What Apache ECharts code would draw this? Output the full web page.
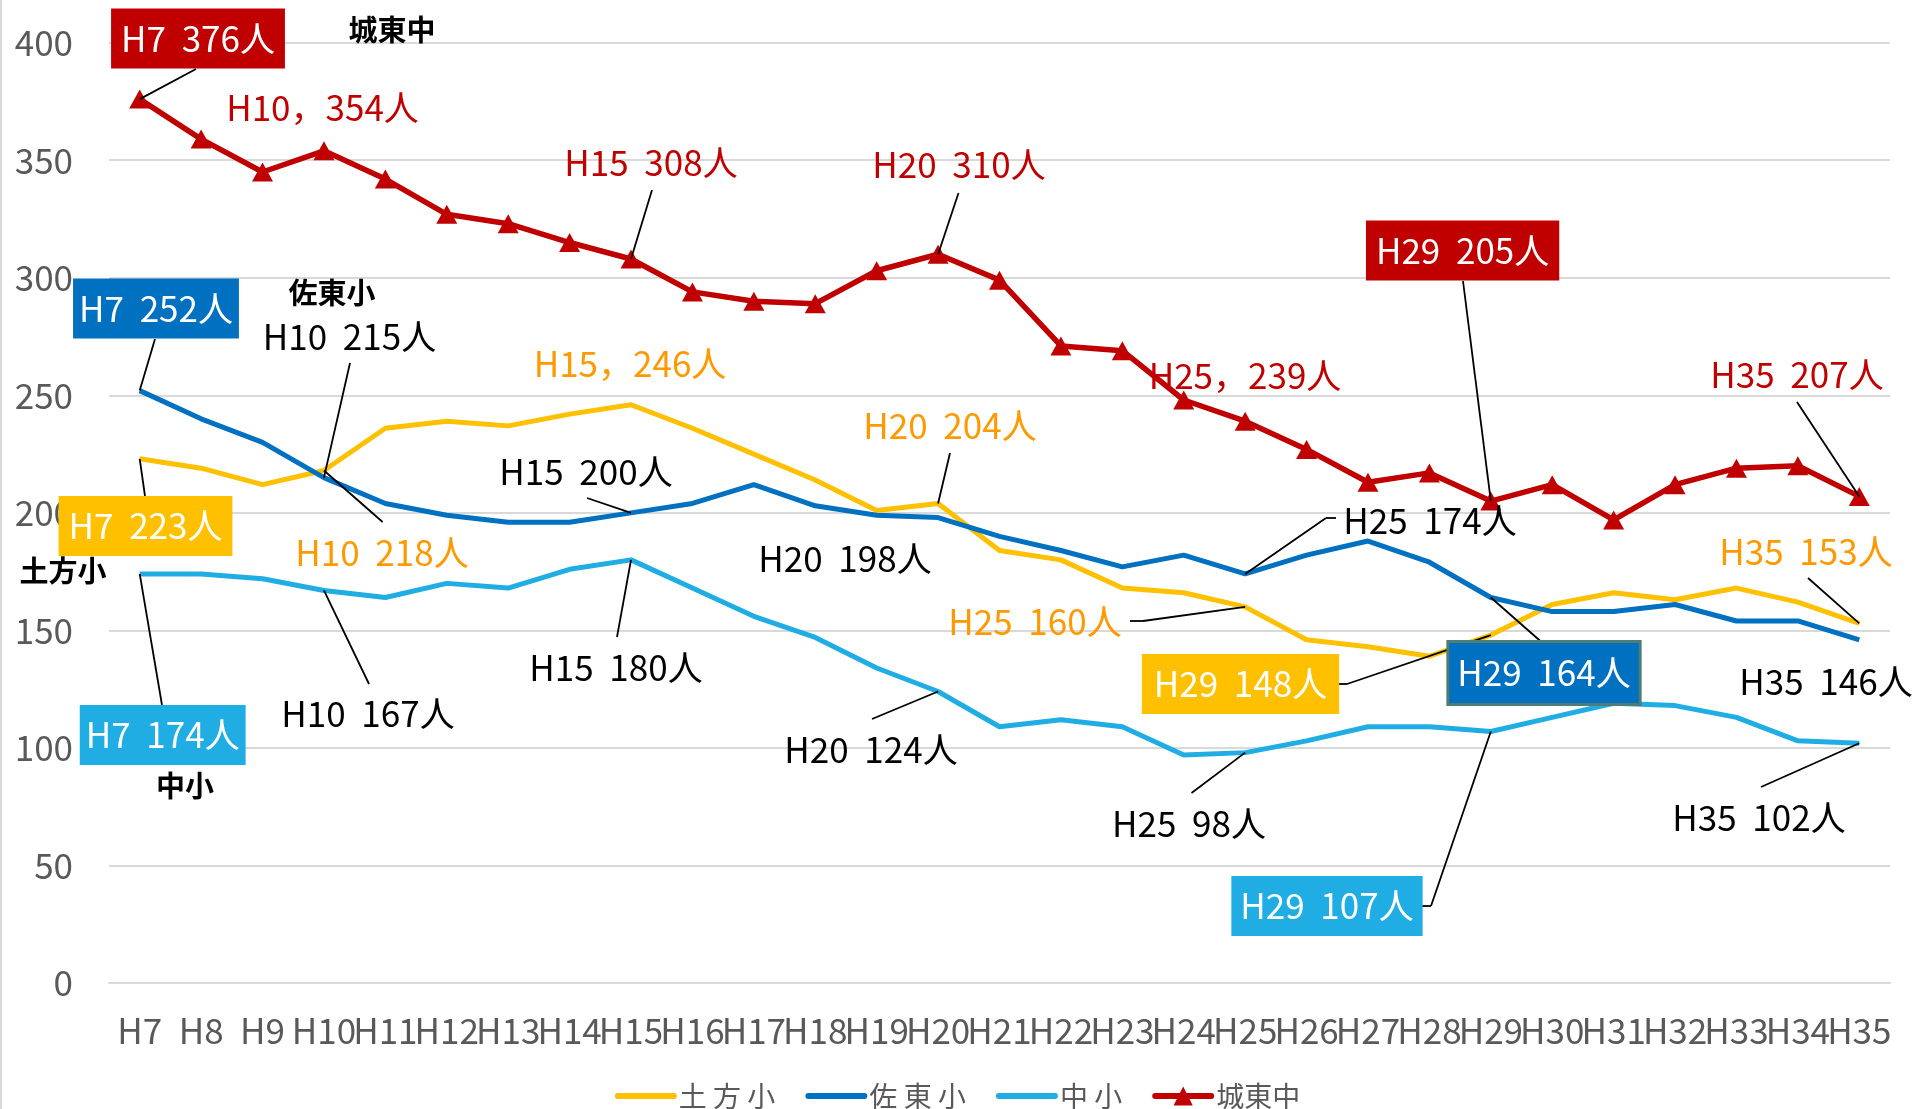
<!DOCTYPE html>
<html>
<head>
<meta charset="utf-8">
<script src="https://cdn.jsdelivr.net/npm/echarts@6/dist/echarts.min.js"></script>
<style>
html,body{margin:0;padding:0;background:#fff;}
#chart{width:1915px;height:1109px;}
</style>
</head>
<body>
<div id="chart"></div>
<script>
// ---------------- data ----------------
const categories = ['H7','H8','H9','H10','H11','H12','H13','H14','H15','H16','H17','H18','H19','H20','H21','H22','H23','H24','H25','H26','H27','H28','H29','H30','H31','H32','H33','H34','H35'];
const yTicks = [0, 50, 100, 150, 200, 250, 300, 350, 400];
const seriesNames = ['土 方 小', '佐 東 小', '中 小', '城東中'];
const hijikata = [223,219,212,218,236,239,237,242,246,236,225,214,201,204,184,180,168,166,160,146,143,139,148,161,166,163,168,162,153];
const satou    = [252,240,230,215,204,199,196,196,200,204,212,203,199,198,190,184,177,182,174,182,188,179,164,158,158,161,154,154,146];
const naka     = [174,174,172,167,164,170,168,176,180,168,156,147,134,124,109,112,109,97,98,103,109,109,107,113,119,118,113,103,102];
const joto     = [376,359,345,354,342,327,323,315,308,294,290,289,303,310,299,271,269,248,239,227,213,217,205,212,197,212,219,220,207];
const annotatedIdx = [0, 3, 8, 13, 18, 22, 28];
const seriesTitles = ['土方小', '佐東小', '中小', '城東中'];

// ---------------- layout / styles ----------------
const FONT = "'Noto Sans CJK JP', 'Noto Sans', sans-serif";
const RED = '#C00000', YEL = '#FFC000', BLUE = '#0070C0', LBLUE = '#1FADE3', ORANGE = '#FF9900', GREY = '#595959';

// annotation layout per series: label centre (pixel), style kind, separator, leader path (pixel points from label toward the data point)
const annLayout = [
  [ // 土方小
    {x:145.5, y:526, kind:'box', bg:YEL, padX:10, lead:[[145,496]]},
    {x:382, y:553, kind:'text', color:ORANGE, lead:[[382.6,522]]},
    {x:630, y:364, kind:'text', color:ORANGE, sep:'，', lead:[]},
    {x:950, y:426, kind:'text', color:ORANGE, lead:[[950,453]]},
    {x:1035, y:622, kind:'text', color:ORANGE, lead:[[1130,621],[1143,621]]},
    {x:1240.5, y:684, kind:'box', bg:YEL, padX:12, lead:[[1336,684],[1347,684]]},
    {x:1806, y:552, kind:'text', color:ORANGE, lead:[[1808,578]]}
  ],
  [ // 佐東小
    {x:156, y:308.5, kind:'box', bg:BLUE, padX:6, lead:[[155,339]]},
    {x:349.5, y:337, kind:'text', color:'#000', lead:[[350,363]]},
    {x:586, y:472, kind:'text', color:'#000', lead:[[587,498]]},
    {x:845, y:559, kind:'text', color:'#000', lead:[]},
    {x:1430, y:521, kind:'text', color:'#000', lead:[[1336,518],[1326,518]]},
    {x:1544, y:673, kind:'box', bg:BLUE, padX:8, border:'#4E7D78', lead:[[1542.6,643]]},
    {x:1826, y:682, kind:'text', color:'#000', lead:[]}
  ],
  [ // 中小
    {x:162.7, y:735, kind:'box', bg:LBLUE, padX:6, lead:[[162,705]]},
    {x:368, y:714, kind:'text', color:'#000', lead:[[369,684]]},
    {x:616, y:668, kind:'text', color:'#000', lead:[[617,637]]},
    {x:871, y:750, kind:'text', color:'#000', lead:[[872,719]]},
    {x:1189, y:824, kind:'text', color:'#000', lead:[[1191.5,793]]},
    {x:1327, y:906, kind:'box', bg:LBLUE, padX:9, lead:[[1419,906],[1431,906]]},
    {x:1759, y:818, kind:'text', color:'#000', lead:[[1761,787]]}
  ],
  [ // 城東中
    {x:198, y:38.5, kind:'box', bg:RED, padX:10, lead:[[196,69]]},
    {x:322.5, y:108, kind:'text', color:RED, sep:'，', lead:[]},
    {x:651, y:163, kind:'text', color:RED, lead:[[652,190]]},
    {x:959, y:165, kind:'text', color:RED, lead:[[958.5,193]]},
    {x:1245, y:376, kind:'text', color:RED, sep:'，', lead:[]},
    {x:1462.6, y:250.5, kind:'box', bg:RED, padX:10, lead:[[1463,281]]},
    {x:1797, y:375, kind:'text', color:RED, lead:[[1797,402]]}
  ]
];
const titleLayout = [[63,571],[332,293],[185,786],[392,30]];

// ---------------- build ----------------
const allValues = [hijikata, satou, naka, joto];
const lineColors = [YEL, BLUE, LBLUE, RED];

function buildMarkers(si) {
  const values = allValues[si];
  const points = [];
  const lines = [];
  annotatedIdx.forEach((di, k) => {
    const a = annLayout[si][k];
    const sep = a.sep || '  ';
    const text = categories[di] + sep + values[di] + '人';
    const label = {
      show: true, position: 'inside', formatter: text,
      fontFamily: FONT, fontSize: 35, lineHeight: 36,
      align: 'center', verticalAlign: 'middle'
    };
    if (a.kind === 'box') {
      label.color = '#fff';
      label.backgroundColor = a.bg;
      label.padding = [12, a.padX, 12, a.padX];
      if (a.border) { label.borderColor = a.border; label.borderWidth = 3; }
    } else {
      label.color = a.color;
    }
    points.push({ x: a.x, y: a.y, label: label });
    const pts = a.lead;
    for (let j = 0; j < pts.length; j++) {
      const p0 = { x: pts[j][0], y: pts[j][1] };
      const p1 = (j + 1 < pts.length) ? { x: pts[j+1][0], y: pts[j+1][1] } : { coord: [di, values[di]] };
      lines.push([p0, p1]);
    }
  });
  return {
    markPoint: {
      silent: true, symbol: 'rect', symbolSize: 1, z: 7,
      itemStyle: { color: 'rgba(0,0,0,0)' },
      data: points
    },
    markLine: {
      silent: true, symbol: ['none', 'none'], z: 6, animation: false,
      label: { show: false },
      lineStyle: { color: '#000', width: 1.8, type: 'solid' },
      emphasis: { disabled: true },
      data: lines
    }
  };
}

const series = allValues.map((vals, si) => {
  const isRed = si === 3;
  const s = {
    name: seriesNames[si],
    type: 'line',
    data: vals,
    color: lineColors[si],
    lineStyle: { width: isRed ? 5.5 : 5, color: lineColors[si] },
    symbol: isRed ? 'triangle' : 'none',
    symbolSize: isRed ? [21, 19] : 0,
    showSymbol: isRed,
    itemStyle: { color: lineColors[si] },
    z: 2 + si,
    emphasis: { disabled: true },
    animation: false
  };
  return Object.assign(s, buildMarkers(si));
});

const graphics = [
  { type: 'rect', left: 0, top: 0, shape: { x: 0, y: 0, width: 2, height: 1109 }, style: { fill: '#D9D9D9' }, z: 0 }
];
titleLayout.forEach((p, i) => {
  graphics.push({
    type: 'text', x: p[0], y: p[1], z: 100,
    style: { text: seriesTitles[i], fill: '#000', font: 'bold 29px ' + FONT, align: 'center', verticalAlign: 'middle' }
  });
});

const legendData = seriesNames.map((n, i) => (i === 3 ? { name: n } : { name: n, itemStyle: { opacity: 0 } }));

const chart = echarts.init(document.getElementById('chart'), null, { renderer: 'canvas' });
chart.setOption({
  animation: false,
  backgroundColor: '#fff',
  textStyle: { fontFamily: FONT },
  grid: { left: 109, right: 25, top: 42.7, bottom: 126, containLabel: false },
  xAxis: {
    type: 'category', data: categories, boundaryGap: true,
    axisLine: { lineStyle: { color: '#D9D9D9', width: 2 } },
    axisTick: { show: false },
    axisLabel: { interval: 0, color: GREY, fontSize: 35, margin: 30, fontFamily: FONT }
  },
  yAxis: {
    type: 'value', min: yTicks[0], max: yTicks[yTicks.length - 1], interval: yTicks[1] - yTicks[0],
    axisLine: { show: false }, axisTick: { show: false },
    splitLine: { lineStyle: { color: '#D9D9D9', width: 2 } },
    axisLabel: { color: GREY, fontSize: 35, margin: 36, fontFamily: FONT }
  },
  legend: {
    data: legendData, top: 1081, left: 'center', padding: 0,
    itemWidth: 56, itemHeight: 24, itemGap: 30,
    lineStyle: { width: 6, cap: 'round' },
    textStyle: { color: GREY, fontSize: 28, lineHeight: 30, fontFamily: FONT }
  },
  graphic: graphics,
  series: series
});
</script>
</body>
</html>
